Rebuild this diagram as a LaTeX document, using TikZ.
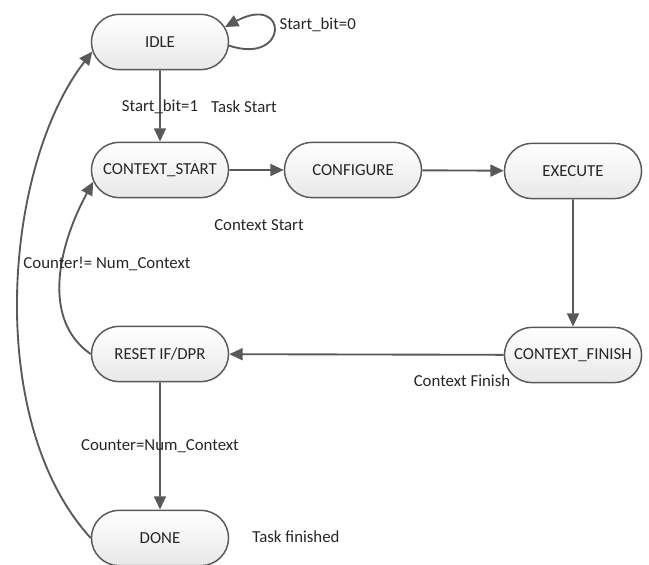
\documentclass[tikz,border=0pt]{standalone}
\usepackage{fontspec}
\setmainfont{Carlito}
\usetikzlibrary{arrows.meta,shapes.misc}
\definecolor{linegray}{HTML}{595959}

\begin{document}
\begin{tikzpicture}[
    x=0.75pt, y=0.75pt,
    font=\fontsize{12.6}{15}\selectfont,
    state/.style={
      rounded rectangle, draw=linegray, line width=1.1pt,
      top color=white, bottom color=black!9,
      minimum width=109.5pt, minimum height=41.5pt,
      text=black!85
    },
    cond/.style={
      text=black!85, inner sep=1pt
    },
    arrowtip/.style={
      draw=linegray, line width=1.4pt,
      -{Triangle[length=10pt,width=9pt]}
    }
  ]
    \useasboundingbox (0,0) rectangle (649,-564);

    \node[state] (idle)      at (160,-42)  { IDLE };
    \node[state] (ctxstart)  at (160,-170) { CONTEXT\_START };
    \node[state] (configure) at (353,-170) { CONFIGURE };
    \node[state] (execute)   at (573,-171) { EXECUTE };
    \node[state] (ctxfinish) at (573,-355) { CONTEXT\_FINISH };
    \node[state] (reset)     at (160,-354) { RESET IF/DPR };
    \node[state] (done)      at (160,-538) { DONE };

    \draw[arrowtip] (idle) -- (ctxstart);
    \draw[arrowtip] (ctxstart) -- (configure);
    \draw[arrowtip] (configure) -- (execute);
    \draw[arrowtip] (execute) -- (ctxfinish);
    \draw[arrowtip] (ctxfinish) -- (reset);
    \draw[arrowtip] (reset) -- (done);

    \draw[arrowtip] (idle.-3) .. controls +(60,-20) and +(64,34) .. (idle.13);
    \draw[arrowtip] (reset.west) .. controls +(-52,36) and +(-32,-58) .. (ctxstart.190);
    \draw[arrowtip] (done.west) .. controls +(-107,117) and +(-89,-115) .. (idle.188);

    \node[cond, anchor=west] (bitzero) at (278,-25) { Start\_bit=0 };
    \node[cond] (bitone)       at (160,-107) { Start\_bit=1 };
    \node[cond] (taskstart)    at (244,-107) { Task Start };
    \node[cond] (ctxstartlbl)  at (259,-225) { Context Start };
    \node[cond] (counterne)    at (107,-264) { Counter!= Num\_Context };
    \node[cond] (ctxfinishlbl) at (462,-381) { Context Finish };
    \node[cond] (countereq)    at (160,-446) { Counter=Num\_Context };
    \node[cond] (taskdone)     at (296,-537) { Task finished };
  \end{tikzpicture}
\end{document}
